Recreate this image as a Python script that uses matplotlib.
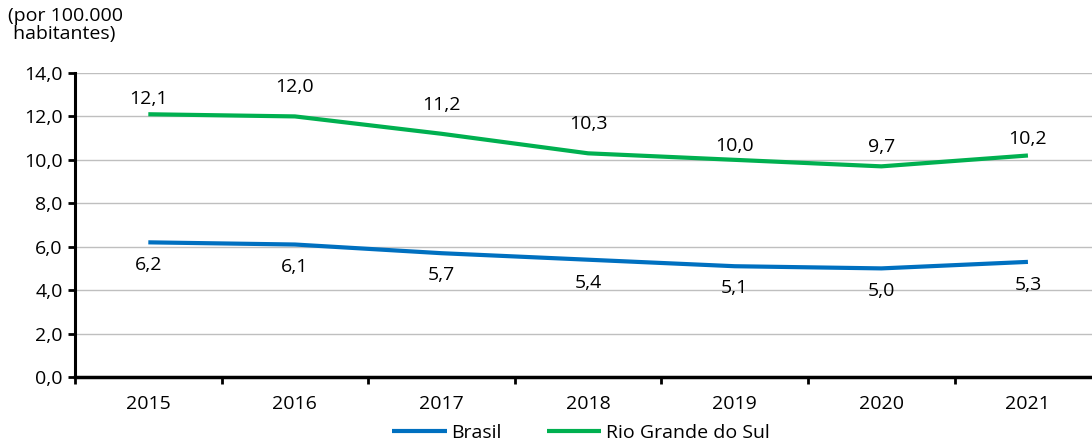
import numpy as np
import matplotlib.pyplot as plt
from matplotlib.ticker import FuncFormatter, FixedLocator

plt.rcParams['font.family'] = ['Open Sans', 'DejaVu Sans']

anos = ['2015', '2016', '2017', '2018', '2019', '2020', '2021']
brasil = [6.2, 6.1, 5.7, 5.4, 5.1, 5.0, 5.3]
rs = [12.1, 12.0, 11.2, 10.3, 10.0, 9.7, 10.2]

# label offsets in points (look of the original)
rs_off = [11, 21, 21, 21, 10, 14, 12]
br_off = [-16, -16, -16, -17, -16, -16, -17]

fig = plt.figure(figsize=(10.92, 4.44), dpi=100)
ax = fig.add_axes([0.0687, 0.151, 0.9313, 0.6846])

x = np.arange(len(anos))
ax.plot(x, brasil, color='#0070C0', lw=3, label='Brasil', solid_capstyle='butt')
ax.plot(x, rs, color='#00B050', lw=3, label='Rio Grande do Sul', solid_capstyle='butt')

fmt = lambda v: f'{v:.1f}'.replace('.', ',')
for i in range(len(anos)):
    ax.annotate(fmt(rs[i]), (x[i], rs[i]), xytext=(0, rs_off[i]), textcoords='offset points',
                ha='center', va='center', fontsize=14)
    ax.annotate(fmt(brasil[i]), (x[i], brasil[i]), xytext=(0, br_off[i]), textcoords='offset points',
                ha='center', va='center', fontsize=14)

ax.set_ylim(0, 14)
ax.set_xlim(-0.5, 6.437)
ax.set_yticks(np.arange(0, 15, 2))
ax.yaxis.set_major_formatter(FuncFormatter(lambda v, p: fmt(v)))
ax.grid(axis='y', color='#BFBFBF', lw=1)
ax.set_axisbelow(True)

ax.set_xticks(x)
ax.set_xticklabels(anos)
ax.xaxis.set_minor_locator(FixedLocator(np.arange(-0.5, 7, 1)))
ax.tick_params(axis='x', which='major', length=0, pad=13, labelsize=14)
ax.tick_params(axis='x', which='minor', length=5, width=2, direction='out')
ax.tick_params(axis='y', length=5, width=2, direction='out', labelsize=14, pad=4)

for s in ['top', 'right']:
    ax.spines[s].set_visible(False)
ax.spines['left'].set_linewidth(2.2)
ax.spines['bottom'].set_linewidth(2.5)

fig.text(0.007, 0.985, '(por 100.000\n habitantes)', ha='left', va='top', fontsize=14, linespacing=1.0)

fig.legend(loc='center', bbox_to_anchor=(0.532, 0.025), ncol=2, frameon=False,
           fontsize=14, handlelength=2.8, handletextpad=0.25, columnspacing=2.3, borderaxespad=0)

fig.savefig('out.png', dpi=100)
